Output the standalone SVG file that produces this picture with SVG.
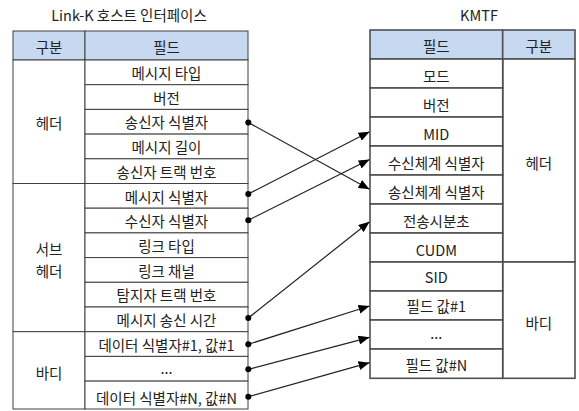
<svg xmlns="http://www.w3.org/2000/svg" width="579" height="411" viewBox="0 0 579 411">
<style>
text{font-family:"Malgun Gothic","Noto Sans CJK KR","Noto Sans",sans-serif;font-size:14.5px;fill:#222;text-anchor:middle;dominant-baseline:central}
.title{font-size:14.5px}
.cell{fill:#fff;stroke:#404040;stroke-width:1}
.hd{fill:#c6d9f1;stroke:#404040;stroke-width:1}
.rc{fill:#fff;stroke:#505050;stroke-width:1.6}
.rh{fill:#c6d9f1;stroke:#505050;stroke-width:1.6}
.conn line{stroke:#222;stroke-width:1.2}
.dot{fill:#000}
</style>
<defs>
<marker id="arr" markerUnits="userSpaceOnUse" markerWidth="11" markerHeight="9" refX="11" refY="4.5" orient="auto">
<path d="M0,0 L11,4.5 L0,9 z" fill="#000"/>
</marker>
</defs>
<rect width="579" height="411" fill="#fff"/>
<text class="title" x="129" y="14">Link-K 호스트 인터페이스</text>
<text class="title" x="479" y="14">KMTF</text>

<g id="left-table">
<g id="left-header">
<rect class="hd" x="13" y="31" width="72" height="29"/>
<rect class="hd" x="85" y="31" width="163" height="29"/>
<text x="49" y="46">구분</text>
<text x="166.5" y="46">필드</text>
</g>
<g id="left-group-header">
<rect class="cell" x="13" y="60" width="72" height="123.5"/>
<text x="49" y="122">헤더</text>
</g>
<g id="left-group-subheader">
<rect class="cell" x="13" y="183.5" width="72" height="148.2"/>
<text x="49" y="248">서브</text>
<text x="49" y="270">헤더</text>
</g>
<g id="left-group-body">
<rect class="cell" x="13" y="331.7" width="72" height="77.3"/>
<text x="49" y="372">바디</text>
</g>
<g id="l1"><rect class="cell" x="85" y="60" width="163" height="24.7"/><text x="166.5" y="72.5">메시지 타입</text></g>
<g id="l2"><rect class="cell" x="85" y="84.7" width="163" height="24.7"/><text x="166.5" y="97.2">버전</text></g>
<g id="l3"><rect class="cell" x="85" y="109.4" width="163" height="24.7"/><text x="166.5" y="121.9">송신자 식별자</text></g>
<g id="l4"><rect class="cell" x="85" y="134.1" width="163" height="24.7"/><text x="166.5" y="146.6">메시지 길이</text></g>
<g id="l5"><rect class="cell" x="85" y="158.8" width="163" height="24.7"/><text x="166.5" y="171.3">송신자 트랙 번호</text></g>
<g id="l6"><rect class="cell" x="85" y="183.5" width="163" height="24.7"/><text x="166.5" y="196">메시지 식별자</text></g>
<g id="l7"><rect class="cell" x="85" y="208.2" width="163" height="24.7"/><text x="166.5" y="220.7">수신자 식별자</text></g>
<g id="l8"><rect class="cell" x="85" y="232.9" width="163" height="24.7"/><text x="166.5" y="245.4">링크 타입</text></g>
<g id="l9"><rect class="cell" x="85" y="257.6" width="163" height="24.7"/><text x="166.5" y="270.1">링크 채널</text></g>
<g id="l10"><rect class="cell" x="85" y="282.3" width="163" height="24.7"/><text x="166.5" y="294.8">탐지자 트랙 번호</text></g>
<g id="l11"><rect class="cell" x="85" y="307" width="163" height="24.7"/><text x="166.5" y="319.5">메시지 송신 시간</text></g>
<g id="l12"><rect class="cell" x="85" y="331.7" width="163" height="24.7"/><text x="166.5" y="344.2">데이터 식별자#1, 값#1</text></g>
<g id="l13"><rect class="cell" x="85" y="356.4" width="163" height="24.7"/><text x="166.5" y="367">...</text></g>
<g id="l14"><rect class="cell" x="85" y="381.1" width="163" height="27.9"/><text x="166.5" y="397">데이터 식별자#N, 값#N</text></g>
</g>

<g id="right-table">
<g id="right-header">
<rect class="rh" x="370" y="30" width="132.7" height="29"/>
<rect class="rh" x="502.7" y="30" width="72.3" height="29"/>
<text x="436.3" y="45">필드</text>
<text x="538.8" y="45">구분</text>
</g>
<g id="right-group-header">
<rect class="rc" x="502.7" y="59" width="72.3" height="203"/>
<text x="538.8" y="162">헤더</text>
</g>
<g id="right-group-body">
<rect class="rc" x="502.7" y="262" width="72.3" height="116.3"/>
<text x="538.8" y="322">바디</text>
</g>
<g id="r1"><rect class="rc" x="370" y="59" width="132.7" height="29"/><text x="436.3" y="75">모드</text></g>
<g id="r2"><rect class="rc" x="370" y="88" width="132.7" height="29"/><text x="436.3" y="104">버전</text></g>
<g id="r3"><rect class="rc" x="370" y="117" width="132.7" height="29"/><text x="436.3" y="133">MID</text></g>
<g id="r4"><rect class="rc" x="370" y="146" width="132.7" height="29"/><text x="436.3" y="162">수신체계 식별자</text></g>
<g id="r5"><rect class="rc" x="370" y="175" width="132.7" height="29"/><text x="436.3" y="191">송신체계 식별자</text></g>
<g id="r6"><rect class="rc" x="370" y="204" width="132.7" height="29"/><text x="436.3" y="220">전송시분초</text></g>
<g id="r7"><rect class="rc" x="370" y="233" width="132.7" height="29"/><text x="436.3" y="249">CUDM</text></g>
<g id="r8"><rect class="rc" x="370" y="262" width="132.7" height="29"/><text x="436.3" y="276">SID</text></g>
<g id="r9"><rect class="rc" x="370" y="291" width="132.7" height="29"/><text x="436.3" y="305">필드 값#1</text></g>
<g id="r10"><rect class="rc" x="370" y="320" width="132.7" height="29"/><text x="436.3" y="332">...</text></g>
<g id="r11"><rect class="rc" x="370" y="349" width="132.7" height="29.3"/><text x="436.3" y="364">필드 값#N</text></g>
</g>

<g id="connectors" class="conn">
<line x1="248.3" y1="122.5" x2="369.5" y2="189.3" marker-end="url(#arr)"/>
<line x1="248.3" y1="194" x2="369.5" y2="131.7" marker-end="url(#arr)"/>
<line x1="248.3" y1="220.3" x2="369.5" y2="159.5" marker-end="url(#arr)"/>
<line x1="248.3" y1="318" x2="369.5" y2="221.7" marker-end="url(#arr)"/>
<line x1="248.3" y1="344.3" x2="369.5" y2="306" marker-end="url(#arr)"/>
<line x1="248.3" y1="369.3" x2="369.5" y2="337.3" marker-end="url(#arr)"/>
<line x1="248.3" y1="396.7" x2="369.5" y2="362.7" marker-end="url(#arr)"/>
<circle class="dot" cx="248.3" cy="122.5" r="3"/>
<circle class="dot" cx="248.3" cy="194" r="3"/>
<circle class="dot" cx="248.3" cy="220.3" r="3"/>
<circle class="dot" cx="248.3" cy="318" r="3"/>
<circle class="dot" cx="248.3" cy="344.3" r="3"/>
<circle class="dot" cx="248.3" cy="369.3" r="3"/>
<circle class="dot" cx="248.3" cy="396.7" r="3"/>
</g>
</svg>
